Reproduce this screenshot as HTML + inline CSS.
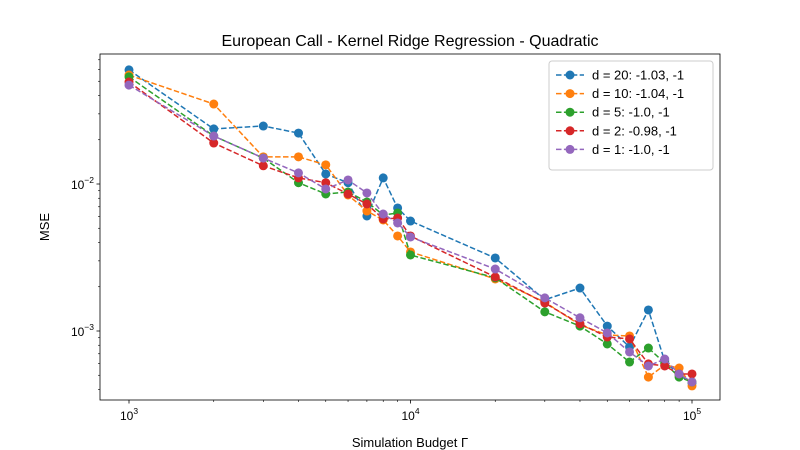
<!DOCTYPE html>
<html><head><meta charset="utf-8">
<style>
html,body{margin:0;padding:0;background:#fff;}
svg{display:block;font-family:"Liberation Sans","DejaVu Sans",sans-serif;}
</style></head>
<body>
<svg id="chart" width="800" height="450" xmlns="http://www.w3.org/2000/svg"></svg>
<script>
const budgets=[1000,2000,3000,4000,5000,6000,7000,8000,9000,10000,20000,30000,40000,50000,60000,70000,80000,90000,100000];
const seriesLabels=["d = 20: -1.03, -1","d = 10: -1.04, -1","d = 5: -1.0, -1","d = 2: -0.98, -1","d = 1: -1.0, -1"];
const seriesColors=["#1f77b4","#ff7f0e","#2ca02c","#d62728","#9467bd"];
const mseD20=[0.0597,0.0237,0.0248,0.0222,0.0117,0.0102,0.00606,0.0110,0.00687,0.0056,0.00314,0.00163,0.00196,0.00108,0.000778,0.00139,0.000625,0.000502,0.000443];
const mseD10=[0.0551,0.0350,0.0153,0.0153,0.0135,0.00842,0.00655,0.00569,0.00443,0.00345,0.00226,0.00157,0.00110,0.00094,0.000925,0.000486,0.000587,0.00056,0.000423];
const mseD5=[0.0535,0.0212,0.0150,0.0102,0.00855,0.00883,0.00755,0.00615,0.00635,0.00329,0.0023,0.00135,0.00108,0.000816,0.000615,0.000766,0.000605,0.000486,0.00045];
const mseD2=[0.0494,0.0190,0.0133,0.0110,0.0102,0.00855,0.00731,0.00578,0.00587,0.00443,0.00233,0.00155,0.00112,0.00091,0.000883,0.000597,0.000578,0.00051,0.00051];
const mseD1=[0.0471,0.0212,0.0150,0.0119,0.00925,0.01065,0.00869,0.00625,0.00543,0.00436,0.00264,0.00168,0.00123,0.00097,0.00072,0.000578,0.000645,0.00051,0.00045];
const allSeries=[mseD20,mseD10,mseD5,mseD2,mseD1];
const xTickVals=[1000,10000,100000];
const xTickExp=["3","4","5"];
const yTickVals=[0.01,0.001];
const yTickExp=["−2","−3"];

const NS="http://www.w3.org/2000/svg";
const svg=document.getElementById('chart');
const L=100,R=720,T=54,B=400;
const xMin=Math.log10(1000)-29/281.5, xMax=Math.log10(1000)+591/281.5;
const yTopE=-2+130/147, yBotE=-2-216/147;
function xs(v){return L+(Math.log10(v)-xMin)/(xMax-xMin)*(R-L);}
function ys(v){return T+(yTopE-Math.log10(v))/(yTopE-yBotE)*(B-T);}
function el(tag,attrs,parent){const e=document.createElementNS(NS,tag);for(const k in attrs)e.setAttribute(k,attrs[k]);(parent||svg).appendChild(e);return e;}

// title & labels
let t=el('text',{x:410,y:46,'text-anchor':'middle','font-size':'16',fill:'#000'});t.textContent="European Call - Kernel Ridge Regression - Quadratic";


t=el('text',{x:410,y:447,'text-anchor':'middle','font-size':'13',fill:'#000'});t.textContent="Simulation Budget Γ";


t=el('text',{x:49,y:227,'text-anchor':'middle','font-size':'13',fill:'#000',transform:'rotate(-90 49 227)'});t.textContent="MSE";



// ticks
const axg=el('g',{});


for(let e=3;e<=5;e++){for(let m=1;m<10;m++){const v=m*Math.pow(10,e);if(v<Math.pow(10,xMin)||v>Math.pow(10,xMax))continue;const x=xs(v);el('line',{x1:x,x2:x,y1:B,y2:B+(m===1?3.5:2),stroke:'#000','stroke-width':m===1?0.8:0.6},axg);}}
for(let e=-4;e<=-1;e++){for(let m=1;m<10;m++){const v=m*Math.pow(10,e);const y=ys(v);if(y<T||y>B)continue;el('line',{x1:L,x2:L-(m===1?3.5:2),y1:y,y2:y,stroke:'#000','stroke-width':m===1?0.8:0.6},axg);}}
xTickVals.forEach((v,i)=>{const tx=el('text',{x:xs(v),y:B+20,'text-anchor':'middle','font-size':'12',fill:'#000'},axg);tx.textContent="10";const s=el('tspan',{dy:-6,'font-size':'8.5'},tx);s.textContent=xTickExp[i];

});
yTickVals.forEach((v,i)=>{const tx=el('text',{x:L-6,y:ys(v)+5,'text-anchor':'end','font-size':'12',fill:'#000'},axg);tx.textContent="10";const s=el('tspan',{dy:-6,'font-size':'8.5'},tx);s.textContent=yTickExp[i];

});

// series
allSeries.forEach((vals,si)=>{
  const g=el('g',{});
  
  
  const pts=vals.map((v,i)=>xs(budgets[i]).toFixed(1)+","+ys(v).toFixed(1)).join(" ");
  el('polyline',{points:pts,fill:'none',stroke:seriesColors[si],'stroke-width':1.5,'stroke-dasharray':'5.5,2.4'},g);
  vals.forEach((v,i)=>{const c=el('circle',{cx:xs(budgets[i]),cy:ys(v),r:4.5,fill:seriesColors[si]},g);
  
  });
});

// frame
el('rect',{x:L,y:T,width:R-L,height:B-T,fill:'none',stroke:'#000','stroke-width':0.8});

// legend
const lg=el('g',{});


el('rect',{x:549,y:61,width:164,height:109,rx:3,fill:'#fff','fill-opacity':0.8,stroke:'#ccc'},lg);
seriesLabels.forEach((lab,i)=>{
  const y=75+i*18.6;
  const eg=el('g',{},lg);
  
  
  el('line',{x1:556,x2:584,y1:y,y2:y,stroke:seriesColors[i],'stroke-width':1.5,'stroke-dasharray':'5.5,2.4'},eg);
  el('circle',{cx:570,cy:y,r:4.5,fill:seriesColors[i]},eg);
  const tx=el('text',{x:592,y:y+4.5,'font-size':'13',fill:'#000'},eg);tx.textContent=lab;
});
</script>
</body></html>
